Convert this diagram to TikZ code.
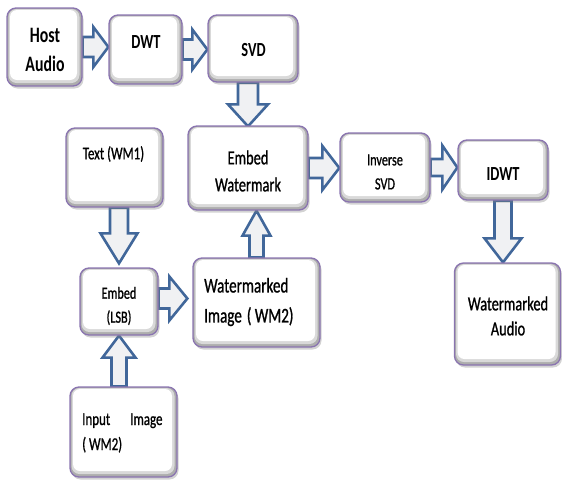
\documentclass[tikz,border=0pt]{standalone}
\usepackage{fontspec}
\newfontfamily\cf[FakeStretch=0.72,FakeBold=0.9]{Carlito}
\newfontfamily\cfb[FakeStretch=0.72]{Carlito Bold}
\usetikzlibrary{calc,backgrounds,shadows}
\definecolor{boxpurple}{HTML}{8A74B0}
\definecolor{arrblue}{HTML}{41679A}
\definecolor{arrfill}{HTML}{F0F1F3}
\newcommand\fs[2]{\fontsize{#1}{#2}\selectfont}
\newcommand\blk[5]{%
  \coordinate (ba) at #1; \coordinate (bb) at #2;
  \coordinate (bh) at ($(bb)!#5!(ba)$);
  \draw[blkarrow] ($(ba)!#3!90:(bb)$) -- ($(bh)!#3!90:(bb)$) -- ($(bh)!#4!90:(bb)$) -- (bb)
    -- ($(bh)!#4!-90:(bb)$) -- ($(bh)!#3!-90:(bb)$) -- ($(ba)!#3!-90:(bb)$) -- cycle;}
\tikzset{
  box/.style={draw=boxpurple, line width=1.3pt, rounded corners=9pt, fill=black!32,
    inner sep=0pt,
    drop shadow={shadow xshift=1.5pt, shadow yshift=-2.5pt, opacity=0.35},
    path picture={
      \fill[black!15, rounded corners=8pt] ([shift={(1.5pt,-1pt)}]path picture bounding box.north west) rectangle ([shift={(-2.5pt,3pt)}]path picture bounding box.south east);
      \fill[white, rounded corners=7pt] ([shift={(3pt,-2pt)}]path picture bounding box.north west) rectangle ([shift={(-5pt,6pt)}]path picture bounding box.south east);
    }},
  lbl/.style={font=\cf, align=center, inner sep=0pt, text=black},
  blkarrow/.style={draw=arrblue, line width=2.6pt, fill=arrfill, line join=miter}
}
\begin{document}
\begin{tikzpicture}[x=1pt,y=-1pt]
\useasboundingbox (0,0) rectangle (562,480);
% boxes
\node[box, minimum width=75pt, minimum height=78pt] (host) at (44.5,47) {};
\node[box, minimum width=73pt, minimum height=69pt] (dwt) at (145.5,49.5) {};
\node[box, minimum width=90pt, minimum height=67pt] (svd) at (253,48.5) {};
\node[box, minimum width=97pt, minimum height=79pt] (txt) at (114.5,167.5) {};
\node[box, minimum width=120pt, minimum height=84pt] (ew) at (248,168) {};
\node[box, minimum width=90pt, minimum height=69pt] (isvd) at (385,167.5) {};
\node[box, minimum width=90pt, minimum height=60pt] (idwt) at (503,170) {};
\node[box, minimum width=106pt, minimum height=102pt] (wa) at (507.5,314) {};
\node[box, minimum width=78pt, minimum height=67pt] (lsb) at (119,301.5) {};
\node[box, minimum width=127pt, minimum height=89pt] (wi) at (256.5,302.5) {};
\node[box, minimum width=107pt, minimum height=90pt] (inp) at (123.5,432) {};
% labels
\node[lbl, font=\cfb\fs{22}{29}] (thost) at (45,50) {Host\\Audio};
\node[lbl, font=\cfb\fs{20}{27}] (tdwt) at (146,42) {DWT};
\node[lbl, font=\cfb\fs{20}{27}] (tsvd) at (253.5,50) {SVD};
\node[lbl, font=\cf\fs{18}{24}] (ttxt) at (113.5,154) {Text (WM1)};
\node[lbl, font=\cf\fs{20}{27}] (tew) at (248,171) {Embed\\Watermark};
\node[lbl, font=\cf\fs{17}{24}] (tisvd) at (385,172) {Inverse\\SVD};
\node[lbl, font=\cfb\fs{20}{27}] (tidwt) at (503,174) {IDWT};
\node[lbl, font=\cf\fs{20}{25}] (twa) at (508,316) {Watermarked\\Audio};
\node[lbl, font=\cf\fs{17}{24}] (tlsb) at (119,306) {Embed\\(LSB)};
\node[lbl, font=\cf\fs{21}{30}, align=left, anchor=west] (twi) at (204,302) {Watermarked\\Image\hspace{5pt}( WM2)};
\node[lbl, font=\cf\fs{18}{25}, align=left, anchor=west] (tinp) at (82,433) {Input\hspace{20pt}Image\\( WM2)};
% arrows
\begin{scope}[on background layer]
\blk{(host.east)}{(host.east -| dwt.west)}{10pt}{20pt}{15pt}
\blk{(dwt.east)}{(dwt.east -| svd.west)}{10pt}{20pt}{15pt}
\blk{(svd.south -| ew.north)}{($(ew.north)+(0,1)$)}{10pt}{20pt}{22pt}
\blk{(ew.east)}{(ew.east -| isvd.west)}{10pt}{22pt}{17pt}
\blk{(isvd.east)}{(isvd.east -| idwt.west)}{8.5pt}{22pt}{15pt}
\blk{(idwt.south)}{(idwt.south |- wa.north)}{8.5pt}{18.5pt}{24pt}
\blk{(txt.south -| lsb.north)}{($(lsb.north)+(0,-4)$)}{9pt}{18.5pt}{30pt}
\blk{($(lsb.east)+(0,-3)$)}{($(lsb.east -| wi.west)+(-5,-3)$)}{10pt}{22pt}{18pt}
\blk{(inp.north -| lsb.south)}{(lsb.south)}{7.5pt}{16.5pt}{22pt}
\blk{(wi.north)}{(wi.north |- ew.south)}{7pt}{14pt}{25pt}
\end{scope}
\end{tikzpicture}
\end{document}
